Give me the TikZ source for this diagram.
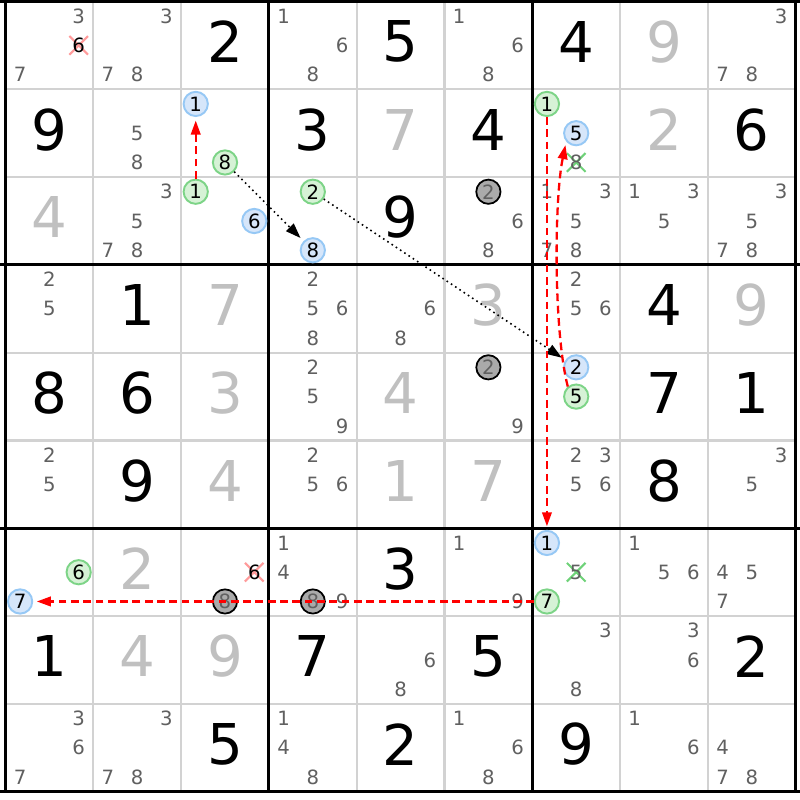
\documentclass[tikz,border=0pt]{standalone}
\usepackage{fontspec}
\setmainfont{DejaVu Sans}
\usetikzlibrary{arrows.meta,shapes.misc}
\definecolor{candgray}{RGB}{96,96,96}
\definecolor{solvgray}{RGB}{192,192,192}
\definecolor{gridgray}{RGB}{210,210,210}
\definecolor{onfill}{RGB}{214,242,214}
\definecolor{ondraw}{RGB}{125,212,135}
\definecolor{offfill}{RGB}{214,230,250}
\definecolor{offdraw}{RGB}{150,200,245}
\definecolor{elimred}{RGB}{255,155,155}
\definecolor{elimgreen}{RGB}{110,210,120}
\definecolor{pinfill}{RGB}{170,170,170}
\definecolor{linkred}{RGB}{255,0,0}

\newcommand{\cands}[3]{\foreach \d in {#3}{\node[cand] (c#1#2\d) at ({#2+(mod(\d-1,3)+0.5)/3},{#1+(floor((\d-1)/3)+0.5)/3}) {\d};}}
\newcommand{\mk}[5]{\node[#1] (#5) at ({#3+(mod(#4-1,3)+0.5)/3},{#2+(floor((#4-1)/3)+0.5)/3}) {#4};}
\newcommand{\elim}[4]{\node[elimx,draw=#1] (x#2#3) at ({#3+(mod(#4-1,3)+0.5)/3},{#2+(floor((#4-1)/3)+0.5)/3}) {};}

\begin{document}
\begin{tikzpicture}[x=0.878cm,y=-0.878cm,
  given/.style={font=\fontsize{16pt}{16pt}\selectfont,inner sep=0pt},
  solved/.style={given,text=solvgray},
  cand/.style={font=\fontsize{5.6pt}{5.6pt}\selectfont,text=candgray,inner sep=0pt},
  on/.style={cand,text=black,circle,draw=ondraw,fill=onfill,line width=0.55pt,minimum size=6.9pt},
  off/.style={cand,text=black,circle,draw=offdraw,fill=offfill,line width=0.55pt,minimum size=6.9pt},
  pin/.style={cand,circle,draw=black,fill=pinfill,line width=0.5pt,minimum size=6.9pt},
  elimx/.style={cross out,line width=0.6pt,minimum size=4.7pt,inner sep=0pt},
  strong/.style={linkred,line width=0.65pt,dash pattern=on 2.2pt off 1.3pt,-{Triangle[length=4pt,width=2.7pt]},shorten >=1pt},
  weak/.style={black,line width=0.45pt,dash pattern=on 0.45pt off 1pt,-{Triangle[length=4.3pt,width=3pt]},shorten >=1.2pt}]
\useasboundingbox (-0.0626,-0.0171) rectangle (9.0490,9.0945);
\fill[white] (-0.0626,-0.0171) rectangle (9.0490,9.0945);
\foreach \i in {1,2,4,5,7,8}{
  \draw[gridgray,line width=0.6pt] (\i,0)--(\i,9);
  \draw[gridgray,line width=0.6pt] (0,\i)--(9,\i);
}
\foreach \i in {0,3,6,9}{
  \draw[black,line width=0.9pt] (\i,-0.0171)--(\i,9);
  \draw[black,line width=0.9pt] (-0.0626,\i)--(9.0490,\i);
}
\draw[black,line width=0.9pt] (0,0) rectangle (9,9);

\node[given] (v02) at (2.5,0.46) {2};
\node[given] (v04) at (4.5,0.46) {5};
\node[given] (v06) at (6.5,0.46) {4};
\node[solved] (v07) at (7.5,0.46) {9};
\node[given] (v10) at (0.5,1.46) {9};
\node[given] (v13) at (3.5,1.46) {3};
\node[solved] (v14) at (4.5,1.46) {7};
\node[given] (v15) at (5.5,1.46) {4};
\node[solved] (v17) at (7.5,1.46) {2};
\node[given] (v18) at (8.5,1.46) {6};
\node[solved] (v20) at (0.5,2.46) {4};
\node[given] (v24) at (4.5,2.46) {9};
\node[given] (v31) at (1.5,3.46) {1};
\node[solved] (v32) at (2.5,3.46) {7};
\node[solved] (v35) at (5.5,3.46) {3};
\node[given] (v37) at (7.5,3.46) {4};
\node[solved] (v38) at (8.5,3.46) {9};
\node[given] (v40) at (0.5,4.46) {8};
\node[given] (v41) at (1.5,4.46) {6};
\node[solved] (v42) at (2.5,4.46) {3};
\node[solved] (v44) at (4.5,4.46) {4};
\node[given] (v47) at (7.5,4.46) {7};
\node[given] (v48) at (8.5,4.46) {1};
\node[given] (v51) at (1.5,5.46) {9};
\node[solved] (v52) at (2.5,5.46) {4};
\node[solved] (v54) at (4.5,5.46) {1};
\node[solved] (v55) at (5.5,5.46) {7};
\node[given] (v57) at (7.5,5.46) {8};
\node[solved] (v61) at (1.5,6.46) {2};
\node[given] (v64) at (4.5,6.46) {3};
\node[given] (v70) at (0.5,7.46) {1};
\node[solved] (v71) at (1.5,7.46) {4};
\node[solved] (v72) at (2.5,7.46) {9};
\node[given] (v73) at (3.5,7.46) {7};
\node[given] (v75) at (5.5,7.46) {5};
\node[given] (v78) at (8.5,7.46) {2};
\node[given] (v82) at (2.5,8.46) {5};
\node[given] (v84) at (4.5,8.46) {2};
\node[given] (v86) at (6.5,8.46) {9};

\cands{0}{0}{3,7} \elim{elimred}{0}{0}{6} \mk{cand,text=black}{0}{0}{6}{e00}
\cands{0}{1}{3,7,8}
\cands{0}{3}{1,6,8}
\cands{0}{5}{1,6,8}
\cands{0}{8}{3,7,8}
\cands{1}{1}{5,8}
\mk{off}{1}{2}{1}{b12} \mk{on}{1}{2}{8}{n12}
\mk{on}{1}{6}{1}{n16} \mk{off}{1}{6}{5}{b16}
\elim{elimgreen}{1}{6}{8} \mk{cand}{1}{6}{8}{e16}
\cands{2}{1}{3,5,7,8}
\mk{on}{2}{2}{1}{n22} \mk{off}{2}{2}{6}{b22}
\mk{on}{2}{3}{2}{n23} \mk{off}{2}{3}{8}{b23}
\mk{pin}{2}{5}{2}{p25} \cands{2}{5}{6,8}
\cands{2}{6}{1,3,5,7,8}
\cands{2}{7}{1,3,5}
\cands{2}{8}{3,5,7,8}
\cands{3}{0}{2,5}
\cands{3}{3}{2,5,6,8}
\cands{3}{4}{6,8}
\cands{3}{6}{2,5,6}
\cands{4}{3}{2,5,9}
\mk{pin}{4}{5}{2}{p45} \cands{4}{5}{9}
\mk{off}{4}{6}{2}{b46} \mk{on}{4}{6}{5}{n46}
\cands{5}{0}{2,5}
\cands{5}{3}{2,5,6}
\cands{5}{6}{2,3,5,6}
\cands{5}{8}{3,5}
\mk{on}{6}{0}{6}{n60} \mk{off}{6}{0}{7}{b60}
\elim{elimred}{6}{2}{6} \mk{cand,text=black}{6}{2}{6}{e62}
\mk{pin}{6}{2}{8}{p62}
\cands{6}{3}{1,4,9} \mk{pin}{6}{3}{8}{p63}
\cands{6}{5}{1,9}
\mk{off}{6}{6}{1}{b66} \mk{on}{6}{6}{7}{n66}
\elim{elimgreen}{6}{6}{5} \mk{cand}{6}{6}{5}{e66}
\cands{6}{7}{1,5,6}
\cands{6}{8}{4,5,7}
\cands{7}{4}{6,8}
\cands{7}{6}{3,8}
\cands{7}{7}{3,6}
\cands{8}{0}{3,6,7}
\cands{8}{1}{3,7,8}
\cands{8}{3}{1,4,8}
\cands{8}{5}{1,6,8}
\cands{8}{7}{1,6}
\cands{8}{8}{4,7,8}

\draw[strong] (n22) -- (b12);
\draw[weak] (n12) -- (b23);
\draw[weak] (n23) -- (b46);
\draw[strong] (n16) -- (b66);
\draw[strong] (n46.130) .. controls (6.24,3.75) and (6.25,2.25) .. (b16.220);
\draw[strong] (n66) -- (b60);
\end{tikzpicture}
\end{document}
